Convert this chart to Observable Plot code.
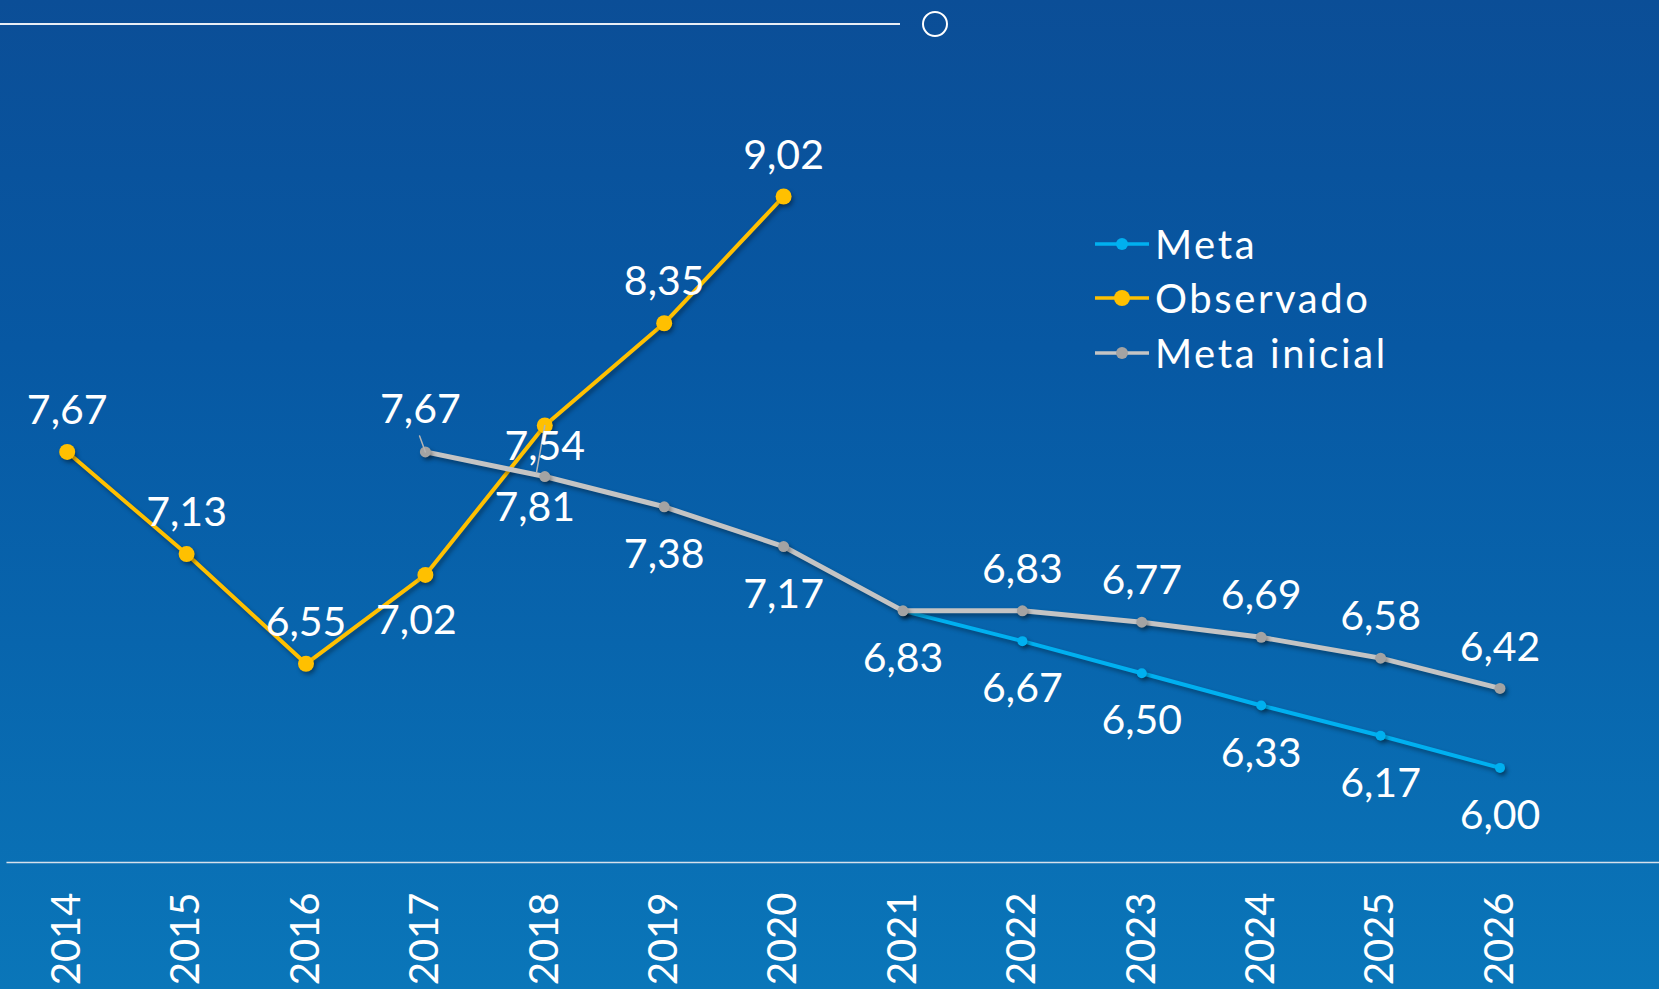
<!DOCTYPE html>
<html>
<head>
<meta charset="utf-8">
<script src="https://cdn.jsdelivr.net/npm/d3@7"></script>
<script src="https://cdn.jsdelivr.net/npm/@observablehq/plot@0.6"></script>
<style>
  html, body { margin: 0; padding: 0; width: 1659px; height: 989px; overflow: hidden; }
  body {
    position: relative;
    background: linear-gradient(180deg, #0b4e97 0%, #0758a3 35%, #0865ad 65%, #0a76b9 100%);
    font-family: Lato, "Open Sans", sans-serif;
    color: white;
  }
  #chart { position: absolute; left: 0; top: 0; }
  #chart svg g[aria-label="line"], #chart svg g[aria-label="dot"] {
    filter: drop-shadow(2px 3px 2px rgba(0, 0, 0, 0.35));
  }
  #chart svg text { font-weight: 400; }
  .topline { position: absolute; left: 0; top: 23px; width: 900px; height: 2px; background: #e8eef6; }
  .topcircle { position: absolute; left: 922px; top: 11px; width: 22px; height: 22px; border: 2px solid white; border-radius: 50%; }
  .legend-row { position: absolute; left: 1095px; height: 40px; display: flex; align-items: center; font-size: 40px; font-weight: 400; line-height: 1; letter-spacing: 2.6px; }
  .legend-row svg { margin-right: 6px; overflow: visible; }
</style>
</head>
<body>
<div class="topline"></div>
<div class="topcircle"></div>
<div id="chart"></div>
<div id="legend"></div>
<script>
// ---- data ----
const years = [2014, 2015, 2016, 2017, 2018, 2019, 2020, 2021, 2022, 2023, 2024, 2025, 2026];
const observadoYears = [2014, 2015, 2016, 2017, 2018, 2019, 2020];
const observado = [7.67, 7.13, 6.55, 7.02, 7.81, 8.35, 9.02];
const metaInicialYears = [2017, 2018, 2019, 2020, 2021, 2022, 2023, 2024, 2025, 2026];
const metaInicial = [7.67, 7.54, 7.38, 7.17, 6.83, 6.83, 6.77, 6.69, 6.58, 6.42];
const metaYears = [2021, 2022, 2023, 2024, 2025, 2026];
const meta = [6.83, 6.67, 6.50, 6.33, 6.17, 6.00];
const legendNames = ["Meta", "Observado", "Meta inicial"];

// ---- styles ----
const colors = { "Meta": "#00b0f0", "Observado": "#ffc000", "Meta inicial": "#c4c4c4" };
const dotColors = { "Meta": "#00b0f0", "Observado": "#ffc000", "Meta inicial": "#a3a3a3" };

const toRows = (ys, vs, series) => ys.map((year, i) => ({ year, value: vs[i], series }));
const obsRows = toRows(observadoYears, observado, "Observado");
const iniRows = toRows(metaInicialYears, metaInicial, "Meta inicial");
const metaRows = toRows(metaYears, meta, "Meta");
const fmt = v => d3.format(".2f")(v).replace(".", ",");

// label placement (style rules)
function place(r) {
  if (r.series === "Observado") {
    if (r.year === 2017) return "belowLeft";
    if (r.year === 2018) return "farBelow";
    return "above";
  }
  if (r.series === "Meta inicial") {
    if (r.year === 2017) return "aboveLeft";
    if (r.year === 2018) return "aboveClose";
    if (r.year <= 2020) return "below";
    if (r.year === 2021) return null;
    return "above";
  }
  return "below";
}
const offsets = {
  above: { dx: 0, dy: -41 },
  below: { dx: 0, dy: 48 },
  belowLeft: { dx: -9, dy: 46 },
  farBelow: { dx: -10, dy: 82 },
  aboveClose: { dx: 0, dy: -30 },
  aboveLeft: { dx: -5, dy: -42 }
};
const allRows = [...metaRows, ...obsRows, ...iniRows].map(r => ({ ...r, pos: place(r), label: fmt(r.value) }));

const labelMarks = Object.entries(offsets).map(([pos, o]) =>
  Plot.text(allRows.filter(r => r.pos === pos), {
    x: "year", y: "value", text: "label", dx: o.dx, dy: o.dy,
    fill: "white", fontSize: 41, lineAnchor: "middle", textAnchor: "middle"
  })
);

const leaderShape = { draw(context, l) { context.moveTo(0, 0); context.lineTo(0, -l); } };

const chart = Plot.plot({
  width: 1659,
  height: 989,
  marginLeft: 66.7,
  marginRight: 159.5,
  marginTop: 196,
  marginBottom: 127,
  x: { domain: [2014, 2026], axis: null },
  y: { domain: [5.5, 9.02], axis: null },
  style: { background: "transparent", color: "white", fontFamily: "Lato, 'Open Sans', sans-serif", overflow: "visible" },
  marks: [
    Plot.frame({ anchor: "bottom", stroke: "#d6e0ec", strokeWidth: 1.5, insetLeft: -60, insetRight: -160 }),
    Plot.axisX(years, { tickRotate: -90, tickSize: 0, tickPadding: 30, fontSize: 40, tickFormat: d => String(d), label: null, color: "white", fill: "white" }),
    Plot.line(metaRows, { x: "year", y: "value", stroke: colors["Meta"], strokeWidth: 4 }),
    Plot.dot(metaRows, { x: "year", y: "value", r: 5, fill: dotColors["Meta"] }),
    Plot.line(obsRows, { x: "year", y: "value", stroke: colors["Observado"], strokeWidth: 4 }),
    Plot.dot(obsRows, { x: "year", y: "value", r: 8, fill: dotColors["Observado"] }),
    Plot.line(iniRows, { x: "year", y: "value", stroke: colors["Meta inicial"], strokeWidth: 5 }),
    Plot.dot(iniRows, { x: "year", y: "value", r: 5.5, fill: dotColors["Meta inicial"] }),
    Plot.vector(obsRows.filter(r => r.year === 2018), { x: "year", y: "value", length: 48, rotate: 190, anchor: "start", shape: leaderShape, stroke: "#b4b4b4", strokeWidth: 1.5 }),
    Plot.vector(iniRows.filter(r => r.year === 2017), { x: "year", y: "value", length: 17, rotate: 340, anchor: "start", shape: leaderShape, stroke: "#b4b4b4", strokeWidth: 1.5 }),
    ...labelMarks
  ]
});
document.getElementById("chart").appendChild(chart);

// legend
const legendY = { "Meta": 244, "Observado": 298, "Meta inicial": 353 };
const legendR = { "Meta": 6, "Observado": 8, "Meta inicial": 6 };
const legend = document.getElementById("legend");
for (const name of legendNames) {
  const row = document.createElement("div");
  row.className = "legend-row";
  row.style.top = (legendY[name] - 20) + "px";
  row.innerHTML = `<svg width="54" height="20" viewBox="0 0 54 20"><line x1="0" y1="10" x2="54" y2="10" stroke="${colors[name]}" stroke-width="3.5"/><circle cx="27" cy="10" r="${legendR[name]}" fill="${dotColors[name]}"/></svg><span></span>`;
  row.querySelector("span").textContent = name;
  legend.appendChild(row);
}
</script>
</body>
</html>
